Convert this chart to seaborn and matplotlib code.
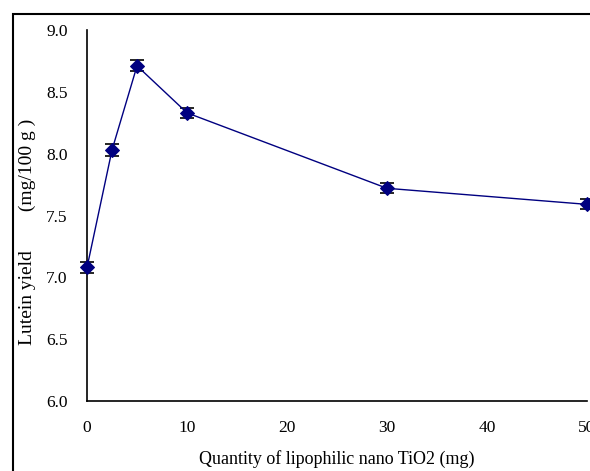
import matplotlib
matplotlib.use("Agg")
import matplotlib.pyplot as plt
import seaborn as sns
import pandas as pd
from matplotlib.patches import Rectangle

# data
quantity = [0, 2.5, 5, 10, 30, 50]
lutein = [7.08, 8.03, 8.71, 8.33, 7.72, 7.59]
err = [0.045, 0.045, 0.045, 0.04, 0.04, 0.04]

df = pd.DataFrame({"quantity": quantity, "lutein": lutein, "err": err})

sns.set_style("white")
plt.rcParams["font.family"] = ["Liberation Serif", "DejaVu Serif"]
plt.rcParams["text.color"] = "black"
plt.rcParams["axes.labelcolor"] = "black"
plt.rcParams["xtick.color"] = "black"
plt.rcParams["ytick.color"] = "black"

fig = plt.figure(figsize=(5.9, 4.71), dpi=100)
ax = fig.add_axes([0.1475, 0.1486, 0.8475, 0.7877])

ax.errorbar(df["quantity"], df["lutein"], yerr=df["err"], fmt="none",
            ecolor="black", elinewidth=1, capsize=5, capthick=1.2, zorder=2,
            clip_on=False)
sns.lineplot(data=df, x="quantity", y="lutein", ax=ax, color="#000080",
             marker="D", markersize=7, markeredgecolor="#000080",
             linewidth=1, zorder=3, clip_on=False)

ax.set_xlim(0, 50)
ax.set_ylim(6.0, 9.0)
ax.set_xticks([0, 10, 20, 30, 40, 50])
ax.set_yticks([6.0, 6.5, 7.0, 7.5, 8.0, 8.5, 9.0])
ax.set_yticklabels(["6.0", "6.5", "7.0", "7.5", "8.0", "8.5", "9.0"])
ax.tick_params(direction="in", length=5, width=1, color="black",
               labelcolor="black", labelsize=12.5, pad=14)
ax.tick_params(axis="x", pad=14)

for s in ["top", "right"]:
    ax.spines[s].set_visible(False)
for s in ["left", "bottom"]:
    ax.spines[s].set_color("black")
    ax.spines[s].set_linewidth(1.2)

ax.set_xlabel("Quantity of lipophilic nano TiO2 (mg)", fontsize=13, labelpad=10)
ax.set_ylabel("Lutein yield        (mg/100 g )", fontsize=14)
ax.yaxis.set_label_coords(-0.103, 0.455)

# outer frame of the figure
fig.patches.append(Rectangle((13 / 590, -0.1), 1.2, (471 - 14) / 471 + 0.1,
                             transform=fig.transFigure, fill=False,
                             edgecolor="black", linewidth=1.5))

fig.savefig("out.png", dpi=100)
